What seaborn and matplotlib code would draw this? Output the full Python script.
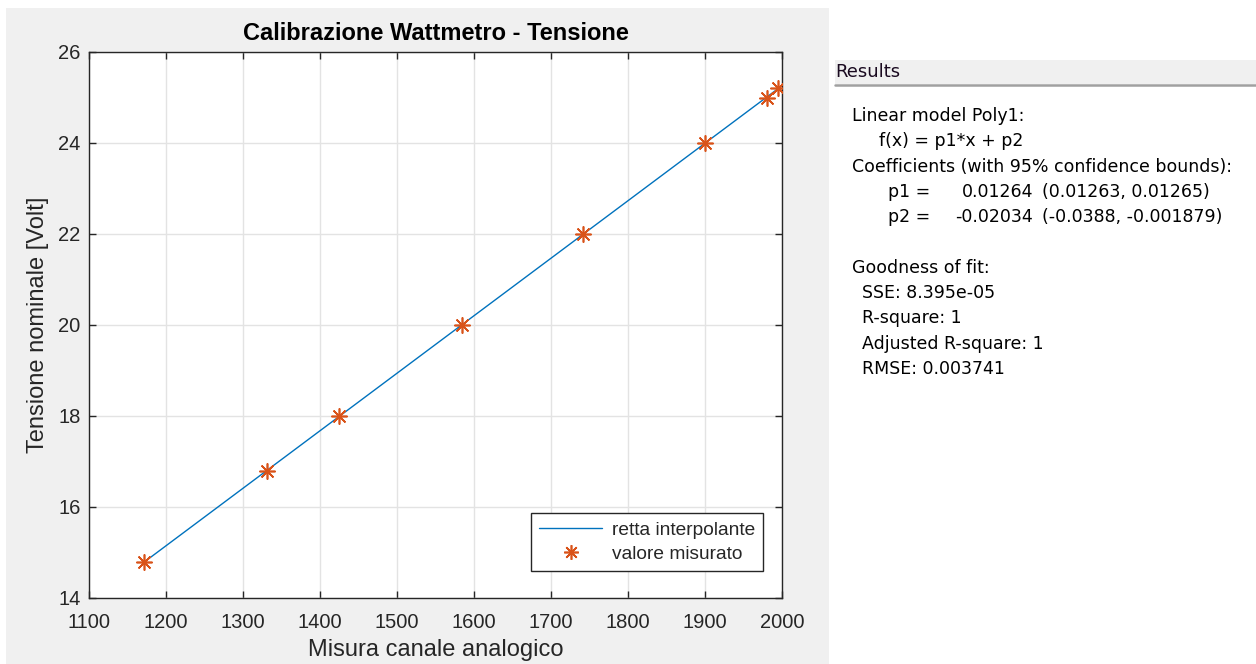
import matplotlib
matplotlib.use("Agg")
import matplotlib.pyplot as plt
from matplotlib.patches import Rectangle
from matplotlib.lines import Line2D
import numpy as np
import pandas as pd
import seaborn as sns

# Measured points: analog channel reading vs nominal voltage
misura_canale = [1172, 1331, 1425, 1584, 1742, 1900, 1980, 1995]
tensione_nominale = [14.8, 16.8, 18.0, 20.0, 22.0, 24.0, 25.0, 25.2]

# Linear fit coefficients (poly1)
p1 = 0.01264
p2 = -0.02034

x_ticks = [1100, 1200, 1300, 1400, 1500, 1600, 1700, 1800, 1900, 2000]
y_ticks = [14, 16, 18, 20, 22, 24, 26]

results_lines = [
    ("Linear model Poly1:", 852),
    ("f(x) = p1*x + p2", 879),
    ("Coefficients (with 95% confidence bounds):", 852),
    ("p1 =", 888),
    ("p2 =", 888),
    ("", 0),
    ("Goodness of fit:", 852),
    ("SSE: 8.395e-05", 862),
    ("R-square: 1", 862),
    ("Adjusted R-square: 1", 862),
    ("RMSE: 0.003741", 862),
]
coef_values = [("0.01264", "(0.01263, 0.01265)"), ("-0.02034", "(-0.0388, -0.001879)")]

sns.set_style("ticks")
plt.rcParams["font.family"] = ["Liberation Sans", "DejaVu Sans"]

W, H = 1256, 664
fig = plt.figure(figsize=(W / 100, H / 100), dpi=100)
fig.patch.set_facecolor("white")


def fx(px):
    return px / W


def fy(py):
    return 1 - py / H


# grey figure area behind the plot
fig.patches.append(Rectangle((fx(6), 0), fx(829) - fx(6), fy(8), transform=fig.transFigure,
                             facecolor="#f0f0f0", edgecolor="none", zorder=-5))

ax = fig.add_axes([fx(89), fy(598), fx(782) - fx(89), fy(52) - fy(598)])
ax.set_facecolor("white")
ax.set_zorder(2)

fit_x = np.array([min(misura_canale), max(misura_canale)])
fit_df = pd.DataFrame({"x": fit_x, "y": p1 * fit_x + p2})
meas_df = pd.DataFrame({"x": misura_canale, "y": tensione_nominale})

blue = "#0072BD"
orange = "#D95319"
sns.lineplot(data=fit_df, x="x", y="y", ax=ax, color=blue, linewidth=1.0, zorder=3)
sns.scatterplot(data=meas_df, x="x", y="y", ax=ax, marker=(8, 2, 0), s=120,
                color=orange, edgecolor=orange, linewidth=1.2, zorder=4)

ax.set_xlim(1100, 2000)
ax.set_ylim(14, 26)
ax.set_xticks(x_ticks)
ax.set_yticks(y_ticks)
ax.grid(True, color="#e3e3e3", linewidth=1.0)
ax.set_axisbelow(True)
ax.tick_params(direction="in", top=True, right=True, length=5, width=1,
               color="#262626", labelsize=14.5, labelcolor="#262626")
ax.tick_params(axis="x", pad=11)
ax.tick_params(axis="y", pad=6)
for sp in ax.spines.values():
    sp.set_color("#262626")
    sp.set_linewidth(1.0)

ax.set_title("Calibrazione Wattmetro - Tensione", fontsize=17, fontweight="bold",
             color="black", pad=9)
ax.set_xlabel("Misura canale analogico", fontsize=17, color="#262626", labelpad=5)
ax.set_ylabel("Tensione nominale [Volt]", fontsize=17, color="#262626", labelpad=7)

handles = [Line2D([], [], color=blue, linewidth=1.0),
           Line2D([], [], linestyle="none", marker=(8, 2, 0), markersize=10.5,
                  color=orange, markeredgewidth=1.2)]
leg = ax.legend(handles, ["retta interpolante", "valore misurato"], loc="lower right",
                bbox_to_anchor=(0.9726, 0.0495), fontsize=13.8, frameon=True, fancybox=False,
                framealpha=1, edgecolor="#262626", handlelength=3.3, handletextpad=0.5,
                borderpad=0.42, labelspacing=0.35, borderaxespad=0)
leg.get_frame().set_linewidth(1.0)
for t in leg.get_texts():
    t.set_color("#262626")

# Results panel
fig.patches.append(Rectangle((fx(835), fy(84)), 1 - fx(835), fy(60) - fy(84),
                             transform=fig.transFigure, facecolor="#f0f0f0",
                             edgecolor="none", zorder=1))
fig.lines.append(Line2D([fx(835), 1], [fy(85), fy(85)], transform=fig.transFigure,
                        color="#a0a0a0", linewidth=1.8, zorder=2))
fig.text(fx(835), fy(72), "Results", fontsize=13, family="DejaVu Sans",
         va="center", ha="left", color="#1a0a20")

panel_font = dict(fontsize=12.5, family="DejaVu Sans", va="center", ha="left", color="black")
y0, dy = 116, 25.3
for i, (txt, xpx) in enumerate(results_lines):
    if txt:
        fig.text(fx(xpx), fy(y0 + i * dy), txt, **panel_font)
for j, (val, ci) in enumerate(coef_values):
    yy = fy(y0 + (3 + j) * dy)
    fig.text(fx(1033), yy, val, **{**panel_font, "ha": "right"})
    fig.text(fx(1042), yy, ci, **panel_font)

fig.savefig("out.png", dpi=100, facecolor=fig.get_facecolor())
